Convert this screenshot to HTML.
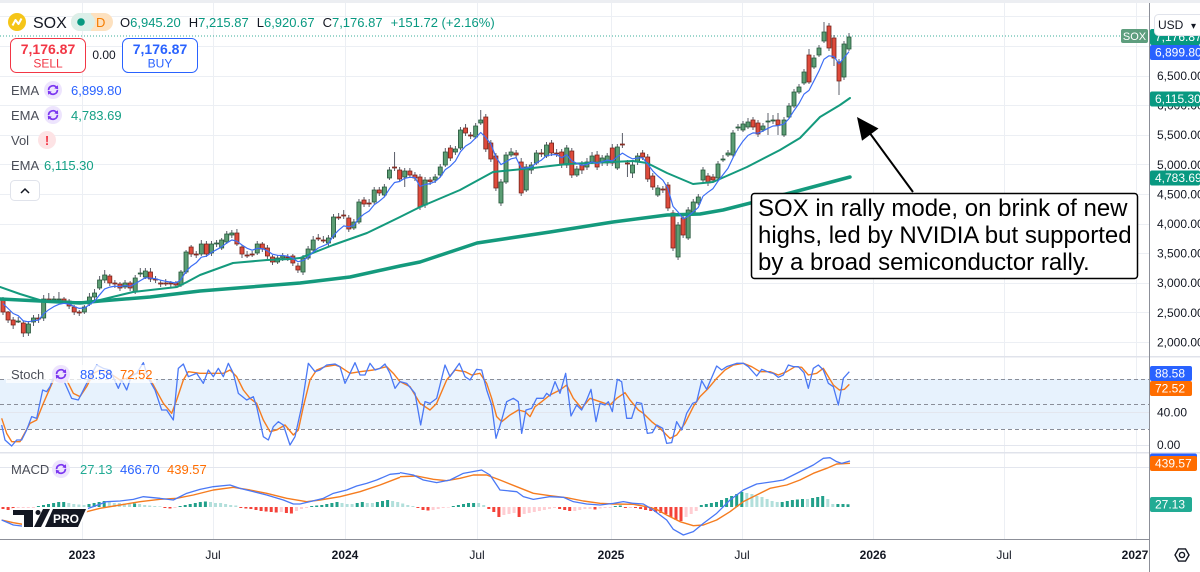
<!DOCTYPE html>
<html><head><meta charset="utf-8"><title>SOX weekly chart</title>
<style>
html,body{margin:0;padding:0;background:#fff}
body{width:1200px;height:572px;overflow:hidden}
svg{display:block;font-family:"Liberation Sans",Arial,sans-serif}
</style></head><body>
<svg width="1200" height="572" viewBox="0 0 1200 572" xmlns="http://www.w3.org/2000/svg">
<defs>
<clipPath id="cm"><rect x="0" y="0" width="1149" height="356"/></clipPath>
<clipPath id="cs"><rect x="0" y="357" width="1149" height="95"/></clipPath>
<clipPath id="cd"><rect x="0" y="453" width="1149" height="86"/></clipPath>
</defs>
<rect width="1200" height="572" fill="#fff"/>
<rect x="0" y="0" width="1200" height="3" fill="#eceef2"/>
<g stroke="#eceff4" stroke-width="1">
<line x1="82.5" y1="3" x2="82.5" y2="539"/><line x1="213.5" y1="3" x2="213.5" y2="539"/>
<line x1="345.5" y1="3" x2="345.5" y2="539"/><line x1="477.5" y1="3" x2="477.5" y2="539"/>
<line x1="611.5" y1="3" x2="611.5" y2="539"/><line x1="742.5" y1="3" x2="742.5" y2="539"/>
<line x1="873.5" y1="3" x2="873.5" y2="539"/><line x1="1004.5" y1="3" x2="1004.5" y2="539"/>
<line x1="1136.5" y1="3" x2="1136.5" y2="539"/>
<line x1="0" y1="16.5" x2="1149" y2="16.5"/><line x1="0" y1="46.5" x2="1149" y2="46.5"/>
<line x1="0" y1="76.5" x2="1149" y2="76.5"/><line x1="0" y1="105.5" x2="1149" y2="105.5"/>
<line x1="0" y1="135.5" x2="1149" y2="135.5"/><line x1="0" y1="164.5" x2="1149" y2="164.5"/>
<line x1="0" y1="194.5" x2="1149" y2="194.5"/><line x1="0" y1="224.5" x2="1149" y2="224.5"/>
<line x1="0" y1="253.5" x2="1149" y2="253.5"/><line x1="0" y1="283.5" x2="1149" y2="283.5"/>
<line x1="0" y1="312.5" x2="1149" y2="312.5"/><line x1="0" y1="342.5" x2="1149" y2="342.5"/>
</g>
<rect x="0" y="379" width="1149" height="50" fill="#e7f2fd"/>
<g stroke="#e3e6ee" stroke-width="1">
<line x1="0" y1="412.5" x2="1149" y2="412.5"/><line x1="0" y1="445.5" x2="1149" y2="445.5"/>
<line x1="0" y1="467.5" x2="1149" y2="467.5"/>
</g>
<g stroke="#8a8e99" stroke-width="1" stroke-dasharray="4,3">
<line x1="0" y1="379.5" x2="1149" y2="379.5"/>
<line x1="0" y1="404.5" x2="1149" y2="404.5"/>
<line x1="0" y1="429.5" x2="1149" y2="429.5"/>
</g>
<line x1="0" y1="36" x2="1121" y2="36" stroke="#089981" stroke-width="1" stroke-dasharray="1,2" opacity="0.8"/>

<!-- MAIN PANEL -->
<g clip-path="url(#cm)">
<!-- Z6 -->
<g transform="matrix(1.017,0,0,1,-0.051,0)">
<path fill="none" stroke="#5d606b" stroke-width="1" d="M3 297V315 M8 311V323 M13 317V329 M18 317V323 M23 321V337 M28 321V336 M33 315V326 M38 314V323 M43 295V321 M48 293V303 M53 296V303 M58 292V302 M63 297V304 M68 299V309 M73 305V315 M78 310V316 M83 305V314 M88 293V306 M93 289V301 M98 276V290 M103 270V283 M108 274V286 M113 280V288 M118 282V291 M123 280V289 M128 281V291 M133 275V294 M138 268V277 M143 268V279 M148 268V282 M153 276V283 M158 280V287 M163 279V286 M168 281V288 M173 281V288 M178 270V287 M183 250V274 M188 245V257 M193 251V258 M198 240V256 M203 241V257 M208 241V256 M213 240V247 M218 238V250 M223 231V244 M228 230V238 M233 229V246 M238 245V258 M243 251V258 M248 251V257 M253 241V255 M258 242V252 M263 245V259 M268 255V265 M273 255V264 M278 253V261 M283 254V261 M288 254V266 M293 263V273 M298 255V275 M303 246V260 M308 236V252 M313 234V241 M318 236V243 M323 235V246 M328 214V239 M333 213V220 M338 210V219 M343 215V232 M348 219V230 M353 199V224 M358 197V207 M363 199V207 M368 187V204 M373 187V196 M378 184V197 M383 167V180 M388 152V171 M393 167V182 M398 168V187"/>
<path fill="#5b9d73" stroke="#24553a" stroke-width="0.8" d="M16 321h4v1h-4z M26 324h4v9h-4z M31 318h4v4h-4z M41 299h4v19h-4z M51 299h4v1h-4z M56 299h4v1h-4z M81 307h4v5h-4z M86 297h4v7h-4z M91 293h4v4h-4z M96 280h4v8h-4z M101 275h4v5h-4z M121 283h4v4h-4z M131 278h4v14h-4z M136 273h4v1h-4z M141 271h4v6h-4z M176 272h4v13h-4z M181 252h4v20h-4z M196 244h4v10h-4z M206 244h4v9h-4z M211 243h4v1h-4z M216 240h4v8h-4z M221 234h4v8h-4z M226 233h4v2h-4z M251 244h4v9h-4z M271 258h4v4h-4z M276 256h4v2h-4z M296 258h4v14h-4z M301 249h4v9h-4z M306 240h4v10h-4z M321 238h4v5h-4z M326 217h4v20h-4z M346 222h4v6h-4z M351 202h4v20h-4z M366 190h4v12h-4z M376 187h4v8h-4z M381 170h4v8h-4z M396 171h4v6h-4z"/>
<path fill="#df4b3c" stroke="#74241b" stroke-width="0.8" d="M1 300h4v12h-4z M6 312h4v8h-4z M11 320h4v5h-4z M21 323h4v10h-4z M36 318h4v1h-4z M46 299h4v1h-4z M61 299h4v2h-4z M66 301h4v5h-4z M71 307h4v5h-4z M76 312h4v1h-4z M106 276h4v7h-4z M111 283h4v1h-4z M116 284h4v4h-4z M126 283h4v5h-4z M146 272h4v7h-4z M151 279h4v1h-4z M156 283h4v1h-4z M161 283h4v1h-4z M166 283h4v1h-4z M171 283h4v2h-4z M186 247h4v7h-4z M191 254h4v1h-4z M201 244h4v10h-4z M231 233h4v11h-4z M236 247h4v7h-4z M241 255h4v1h-4z M246 254h4v1h-4z M256 244h4v5h-4z M261 248h4v8h-4z M266 257h4v5h-4z M281 257h4v1h-4z M286 256h4v7h-4z M291 266h4v4h-4z M311 238h4v1h-4z M316 240h4v1h-4z M331 217h4v1h-4z M336 215h4v1h-4z M341 218h4v11h-4z M356 200h4v4h-4z M361 203h4v1h-4z M371 190h4v3h-4z M386 167h4v1h-4z M391 170h4v9h-4z"/>
</g>
<!-- Z7 -->
<g transform="matrix(1.012,0,0,1,-5.04,0)">
<path fill="none" stroke="#5d606b" stroke-width="1" d="M410 168V178 M415 172V181 M420 174V210 M425 177V208 M430 177V185 M435 174V183 M440 164V177 M445 148V167 M450 145V161 M455 146V155 M460 127V150 M465 124V136 M470 132V139 M475 123V139 M480 110V125 M485 114V152 M490 140V162 M495 153V191 M500 179V206 M505 152V184 M510 148V157 M515 150V158 M520 158V196 M525 164V192 M530 162V174 M535 150V165 M540 149V157 M545 142V158 M550 140V156 M555 149V157 M560 149V168 M565 145V168 M570 148V178 M575 166V177 M580 161V174 M585 158V170 M590 152V164 M595 151V170 M600 155V166 M605 153V166 M610 144V166 M615 144V170 M620 133V148 M625 160V177 M630 162V178 M635 153V165 M640 150V160 M645 154V182 M650 173V190 M655 185V197 M660 186V193 M665 182V211 M670 210V251 M675 222V260 M680 215V238 M685 207V240 M690 199V214 M695 194V205"/>
<path fill="#5b9d73" stroke="#24553a" stroke-width="0.8" d="M423 180h4v25h-4z M433 177h4v3h-4z M438 167h4v8h-4z M443 152h4v13h-4z M453 149h4v3h-4z M458 130h4v18h-4z M473 126h4v11h-4z M478 120h4v3h-4z M498 182h4v21h-4z M503 155h4v27h-4z M508 152h4v3h-4z M523 167h4v23h-4z M528 165h4v5h-4z M533 153h4v10h-4z M543 145h4v11h-4z M563 148h4v17h-4z M573 169h4v6h-4z M583 162h4v5h-4z M588 156h4v6h-4z M598 158h4v5h-4z M603 156h4v7h-4z M613 147h4v21h-4z M628 165h4v8h-4z M633 156h4v6h-4z M653 188h4v7h-4z M673 225h4v32h-4z M683 210h4v28h-4z M688 202h4v10h-4z M693 197h4v6h-4z"/>
<path fill="#df4b3c" stroke="#74241b" stroke-width="0.8" d="M408 171h4v4h-4z M413 175h4v3h-4z M418 177h4v30h-4z M428 180h4v1.5h-4z M448 148h4v10h-4z M463 128h4v5h-4z M468 135h4v1h-4z M483 117h4v32h-4z M488 143h4v16h-4z M493 156h4v32h-4z M513 153h4v2h-4z M518 162h4v31h-4z M538 153h4v1h-4z M548 143h4v10h-4z M553 153h4v1h-4z M558 152h4v13h-4z M568 151h4v24h-4z M578 165h4v5h-4z M593 155h4v12h-4z M608 148h4v15h-4z M618 144h4v1h-4z M623 163h4v1h-4z M638 153h4v4h-4z M643 157h4v22h-4z M648 176h4v11h-4z M658 189h4v1h-4z M663 185h4v23h-4z M668 213h4v35h-4z M678 218h4v17h-4z"/>
</g>
<!-- Z8 -->
<path fill="none" stroke="#5d606b" stroke-width="1" d="M703 167V182 M708 173V186 M713 174V183 M718 161V180 M723 155V162 M728 150V157 M733 130V157 M738 124V131 M743 121V132 M748 118V129 M753 117V130 M758 120V137 M763 123V132 M768 113V135 M773 115V124 M778 113V135 M784 117V137 M789 103V119 M794 89V108 M799 84V94 M804 69V85 M809 49V84 M814 55V69 M819 45V57 M824 22V43 M829 23V51 M834 35V66 M839 59V95 M844 41V80 M849 33V51"/>
<path fill="#5b9d73" stroke="#24553a" stroke-width="0.8" d="M701 170h4v10h-4z M716 164h4v14h-4z M721 159h4v1h-4z M726 153h4v2h-4z M731 133h4v22h-4z M736 127h4v1h-4z M741 124h4v6h-4z M746 122h4v5h-4z M761 126h4v4h-4z M766 121h4v1h-4z M771 120h4v1h-4z M782 120h4v15h-4z M787 106h4v11h-4z M792 92h4v14h-4z M797 87h4v5h-4z M802 72h4v11h-4z M812 58h4v9h-4z M817 48h4v7h-4z M822 32h4v9h-4z M842 44h4v33h-4z M847 37h4v12h-4z"/>
<path fill="#df4b3c" stroke="#74241b" stroke-width="0.8" d="M706 176h4v7h-4z M711 177h4v3h-4z M751 120h4v7h-4z M756 123h4v11h-4z M776 120h4v5h-4z M807 55h4v27h-4z M827 26h4v22h-4z M832 38h4v20h-4z M837 62h4v19h-4z"/>

<!-- green EMAs -->
<polyline fill="none" stroke="#149a7d" stroke-width="3.5" stroke-linejoin="round" stroke-linecap="round" points="0,299 40,301 80,303 100,301 150,297 200,291 250,287 300,283 350,277 400,266 420,262 477,243 550,232 613,222 667,215 700,214 723,210 790,193 850,177"/>
<polyline fill="none" stroke="#149a7d" stroke-width="2" stroke-linejoin="round" stroke-linecap="round" points="0,287 20,294 33,298 43,301 60,302 87,302 100,300 133,292 177,287 187,282 200,275 233,263 267,260 290,259 300,258 333,245 367,233 400,217 420,207 460,190 493,172 533,168 567,164 633,161 647,163 667,173 693,184 713,182 747,167 780,150 800,138 820,117 840,105 850,98"/>
<!-- blue EMA -->
<g fill="none" stroke="#3d6ef5" stroke-width="1.2" stroke-linejoin="round">
<polyline transform="matrix(1.017,0,0,1,-0.051,0)" points="3,303.6 8,308.5 13,313.5 18,315.7 23,320.9 28,321.8 33,320.7 38,320.1 43,313.8 48,309.7 53,306.6 58,304.3 63,303.3 68,304.1 73,306.5 78,308.4 83,308 88,304.7 93,301.2 98,294.8 103,288.9 108,287.1 113,286.1 118,286.7 123,285.6 128,286.3 133,283.8 138,280.6 143,277.7 148,278.1 153,278.7 158,280.2 163,281.3 168,282.1 173,283 178,279.7 183,271.4 188,266.2 193,262.8 198,257.2 203,256.2 208,252.5 213,249.7 218,246.8 223,243 228,240 233,241.2 238,245 243,248.3 248,250.2 253,248.4 258,248.6 263,250.8 268,254.2 273,255.3 278,255.5 283,256.2 288,258.2 293,261.7 298,260.6 303,257.1 308,252 313,248 318,245.8 323,243.5 328,235.5 333,230.2 338,225.9 343,226.8 348,225.4 353,218.4 358,214.1 363,211 368,204.7 373,201.2 378,196.9 383,188.8 388,182.5 393,181.5 398,178.3 403.1,177.3"/>
<polyline transform="matrix(1.012,0,0,1,-5.04,0)" points="410,177.3 415,177.5 420,186.4 425,184.5 430,183.6 435,181.6 440,177.2 445,169.6 450,166.1 455,161 460,151.7 465,146.1 470,143 475,137.9 480,132.5 485,137.5 490,143.9 495,157.1 500,164.6 505,161.7 510,158.8 515,157.7 520,168.3 525,167.9 530,167 535,162.8 540,160.1 545,155.6 550,154.8 555,154.5 560,157.7 565,154.8 570,160.9 575,163.3 580,165.3 585,164.3 590,161.8 595,163.4 600,161.8 605,160.1 610,160.9 615,156.7 620,153.1 625,156.3 630,158.9 635,158 640,157.7 645,164.1 650,170.9 655,176 660,180.2 665,188.5 670,206.4 675,212 680,218.9 685,216.2 690,211.9 695,207.4 699.6,196.2"/>
<polyline points="703,196.2 708,192.2 713,188.6 718,181.2 723,174.8 728,168.3 733,157.7 738,148.5 743,141.1 748,135.4 753,132.9 758,133.2 763,131 768,128.3 773,126 778,125.7 784,124 789,118.6 794,110.6 799,103.5 804,94.1 809,90.4 814,80.7 819,70.9 824,59.2 829,55.8 834,56.5 839,63.8 844,57.9 849,51.6"/>
</g>
</g>

<!-- STOCH -->
<g clip-path="url(#cs)" fill="none" stroke-linejoin="round">
<g transform="matrix(0.333333,0,0,0.333333,0,340)">
<polyline vector-effect="non-scaling-stroke" stroke="#f57c1f" stroke-width="1.4" points="5,235 20,280 35,305 60,305 90,250 110,240 130,190 165,110 180,95 200,120 220,160 240,170 260,140 280,100 300,90 330,100 360,120 380,115 410,100 440,100 460,135 490,190 515,220 530,180 550,120 565,95 600,100 630,100 670,100 690,90 710,110 730,150 750,175 770,190 790,240 810,275 830,270 855,255 880,285 895,270 910,200 930,120 950,90 975,80 1005,75 1020,80 1050,100 1080,95 1120,90 1160,80 1180,100 1200,125"/>
<polyline vector-effect="non-scaling-stroke" stroke="#4a78f5" stroke-width="1.3" points="5,255 15,300 35,318 50,300 65,300 80,270 95,230 110,235 128,150 140,155 150,140 165,100 180,90 195,130 215,175 235,180 255,140 270,110 290,75 310,85 330,90 355,145 365,120 380,150 395,105 410,100 430,68 445,115 465,150 485,210 500,210 520,240 535,85 550,72 565,110 590,100 610,130 625,90 640,110 655,85 670,110 685,70 700,100 715,160 740,180 760,170 770,200 790,290 805,300 820,260 835,245 850,255 870,315 885,290 905,200 925,70 945,95 960,90 980,75 1005,72 1020,80 1035,130 1050,100 1065,68 1080,105 1095,105 1110,70 1125,90 1140,85 1155,72 1170,100 1185,145 1200,125"/>
</g>
<g transform="matrix(0.333333,0,0,0.333333,400,340)">
<polyline vector-effect="non-scaling-stroke" stroke="#f57c1f" stroke-width="1.4" points="0,125 30,140 60,190 90,210 110,190 140,120 165,90 195,95 215,105 240,100 260,130 275,175 290,230 305,245 330,225 355,210 375,215 390,230 405,200 425,185 450,165 480,150 500,135 520,175 545,205 570,175 600,185 630,195 650,175 675,158 690,180 715,210 730,220 755,245 780,265 810,295 830,285 855,250 880,200 900,170 925,145 950,115 975,90 1000,75 1030,70 1055,80 1080,95 1110,95 1135,105 1160,95 1185,80 1205,82 1225,105 1250,100 1270,85 1285,110 1300,135 1318,150 1333,148 1348,133"/>
<polyline vector-effect="non-scaling-stroke" stroke="#4a78f5" stroke-width="1.3" points="0,125 20,130 45,160 62,255 75,185 90,190 110,175 135,75 150,110 178,70 195,110 210,120 230,88 245,90 260,150 275,195 288,295 305,240 320,185 340,175 355,185 365,280 378,210 395,205 410,175 430,175 440,160 450,168 465,125 480,160 497,100 513,228 530,195 545,210 560,180 573,148 588,245 600,190 615,195 625,185 637,215 652,118 665,125 680,235 695,235 710,187 725,190 742,280 757,278 770,255 788,265 800,310 815,308 830,245 845,270 860,220 878,190 890,185 905,122 920,148 950,78 965,90 980,80 1010,70 1030,70 1045,80 1070,108 1085,88 1110,98 1120,100 1135,112 1150,105 1165,75 1180,80 1195,80 1212,98 1225,145 1240,85 1255,75 1270,90 1285,130 1300,140 1315,195 1330,115 1348,95"/>
</g>
</g>

<!-- MACD -->
<g clip-path="url(#cd)">
<path fill="#22a08a" d="M36.9,506h3v1h-3z M42,505h3v2h-3z M47,504h3v3h-3z M52.1,503h3v4h-3z M57.2,502h3v5h-3z M62.2,502h3v5h-3z M87.5,504h3v3h-3z M92.6,503h3v4h-3z M97.6,502h3v5h-3z M102.7,501h3v6h-3z M133.1,503.5h3v3.5h-3z M178.6,506h3v1h-3z M183.7,505h3v2h-3z M188.7,504h3v3h-3z M193.8,503h3v4h-3z M198.8,502h3v5h-3z M203.9,501.5h3v5.5h-3z M310.2,506h3v1h-3z M315.2,505.5h3v1.5h-3z M320.3,505h3v2h-3z M325.3,504h3v3h-3z M330.4,503h3v4h-3z M335.5,502h3v5h-3z M355.7,503h3v4h-3z M360.8,502h3v5h-3z M375.9,502h3v5h-3z M381,501h3v6h-3z M386.1,500h3v7h-3z M451.8,506h3v1h-3z M456.9,505h3v2h-3z M462,504h3v3h-3z M467,503h3v4h-3z M472.1,503h3v4h-3z M613.8,506h3v1h-3z M618.8,505.5h3v1.5h-3z M699.8,505h3v2h-3z M704.8,504h3v3h-3z M709.9,503h3v4h-3z M715,502h3v5h-3z M720,500h3v7h-3z M725.1,498h3v9h-3z M730.1,496h3v11h-3z M735.2,494h3v13h-3z M740.3,492h3v15h-3z M780.7,502h3v5h-3z M785.8,501h3v6h-3z M790.9,500h3v7h-3z M795.9,499.5h3v7.5h-3z M801,499h3v8h-3z M811.1,498h3v9h-3z M816.2,497h3v10h-3z M821.2,496h3v11h-3z M836.4,504h3v3h-3z M841.5,504h3v3h-3z M846.5,504.3h3v2.7h-3z"/>
<path fill="#b2dfdb" d="M67.3,503h3v4h-3z M72.3,504h3v3h-3z M77.4,504.5h3v2.5h-3z M82.5,505h3v2h-3z M107.8,502h3v5h-3z M112.8,503h3v4h-3z M117.9,503h3v4h-3z M122.9,503.5h3v3.5h-3z M128,504h3v3h-3z M138.1,504h3v3h-3z M143.2,505h3v2h-3z M148.2,505.5h3v1.5h-3z M153.3,506h3v1h-3z M158.4,506.4h3v0.6h-3z M209,502h3v5h-3z M214,503h3v4h-3z M219.1,503h3v4h-3z M224.1,504h3v3h-3z M229.2,505h3v2h-3z M234.3,505.5h3v1.5h-3z M340.5,503h3v4h-3z M345.6,504h3v3h-3z M350.6,504h3v3h-3z M365.8,503h3v4h-3z M370.9,503h3v4h-3z M391.1,501h3v6h-3z M396.2,502h3v5h-3z M401.2,503.5h3v3.5h-3z M406.3,505h3v2h-3z M411.4,506h3v1h-3z M477.1,503h3v4h-3z M482.2,505h3v2h-3z M745.3,493h3v14h-3z M750.4,494h3v13h-3z M755.4,496h3v11h-3z M760.5,497h3v10h-3z M765.6,499h3v8h-3z M770.6,501h3v6h-3z M775.7,502h3v5h-3z M806,499h3v8h-3z M826.3,499h3v8h-3z M831.3,504h3v3h-3z"/>
<path fill="#f4423a" d="M1.5,507h3v2h-3z M6.6,507h3v3h-3z M11.6,507h3v4h-3z M163.4,507h3v1h-3z M168.5,507h3v1.5h-3z M239.3,507h3v1h-3z M244.4,507h3v1.5h-3z M249.4,507h3v2h-3z M254.5,507h3v3h-3z M259.6,507h3v4h-3z M264.6,507h3v4.5h-3z M269.7,507h3v5h-3z M274.7,507h3v5.5h-3z M284.9,507h3v6h-3z M289.9,507h3v6.5h-3z M416.4,507h3v1h-3z M421.5,507h3v3h-3z M426.5,507h3v3.5h-3z M487.3,507h3v2h-3z M492.3,507h3v5h-3z M497.4,507h3v10h-3z M517.6,507h3v10h-3z M558.1,507h3v2h-3z M563.2,507h3v3h-3z M568.2,507h3v4h-3z M593.5,507h3v2.5h-3z M623.9,507h3v1h-3z M634,507h3v1h-3z M639.1,507h3v2h-3z M644.1,507h3v3h-3z M649.2,507h3v4h-3z M654.2,507h3v5h-3z M659.3,507h3v6h-3z M664.4,507h3v7h-3z M669.4,507h3v10h-3z M674.5,507h3v13h-3z M679.5,507h3v14h-3z"/>
<path fill="#ffcdd2" d="M16.7,507h3v3h-3z M21.7,507h3v2h-3z M26.8,507h3v1h-3z M31.9,507h3v1h-3z M173.5,507h3v1h-3z M279.8,507h3v5h-3z M295,507h3v4h-3z M300,507h3v2h-3z M305.1,507h3v1h-3z M431.6,507h3v3h-3z M436.7,507h3v2h-3z M441.7,507h3v1h-3z M446.8,507h3v0.6h-3z M502.4,507h3v8h-3z M507.5,507h3v7h-3z M512.6,507h3v6h-3z M522.7,507h3v7h-3z M527.7,507h3v6h-3z M532.8,507h3v5h-3z M537.9,507h3v4h-3z M542.9,507h3v3h-3z M548,507h3v2h-3z M553,507h3v1h-3z M573.3,507h3v4h-3z M578.3,507h3v3h-3z M583.4,507h3v2h-3z M588.5,507h3v2h-3z M598.6,507h3v1.5h-3z M603.6,507h3v1h-3z M608.7,507h3v1h-3z M628.9,507h3v1h-3z M684.6,507h3v10h-3z M689.7,507h3v7h-3z M694.7,507h3v4h-3z"/>
<g fill="none" stroke-linejoin="round">
<g transform="matrix(0.333333,0,0,0.333333,0,340)">
<polyline vector-effect="non-scaling-stroke" stroke="#f57c1f" stroke-width="1.4" points="5,540 40,548 80,555 120,555 160,548 200,535 260,515 300,505 360,495 420,485 480,478 530,475 580,465 640,450 700,442 750,450 800,460 860,475 920,485 960,480 1020,470 1080,455 1140,435 1200,412"/>
<polyline vector-effect="non-scaling-stroke" stroke="#4a78f5" stroke-width="1.3" points="5,540 40,555 80,560 120,545 160,530 220,520 280,500 320,485 360,483 400,478 430,470 480,475 520,480 560,460 600,448 640,440 690,435 720,445 760,455 800,465 850,480 880,492 900,492 930,485 970,475 1000,460 1040,450 1070,438 1100,430 1130,420 1170,403 1200,400"/>
</g>
<g transform="matrix(0.333333,0,0,0.333333,400,340)">
<polyline vector-effect="non-scaling-stroke" stroke="#f57c1f" stroke-width="1.4" points="0,410 50,408 100,418 140,422 180,415 220,405 260,405 300,420 350,440 400,460 450,467 500,473 550,483 600,490 640,492 700,493 740,500 770,508 800,525 840,545 880,557 910,555 950,540 990,515 1030,485 1070,465 1110,445 1160,435 1200,420 1240,400 1280,385 1310,372 1350,370"/>
<polyline vector-effect="non-scaling-stroke" stroke="#4a78f5" stroke-width="1.3" points="0,398 40,405 70,420 110,428 150,420 190,400 245,390 270,405 300,450 350,455 370,470 400,478 450,470 490,472 520,485 560,492 600,495 640,490 670,485 700,490 730,492 760,510 800,540 820,568 850,585 880,575 910,550 950,520 990,480 1030,450 1070,432 1120,425 1150,420 1180,405 1210,390 1240,375 1270,355 1290,353 1310,365 1325,370 1350,363"/>
</g>
</g>
</g>

<!-- separators -->
<rect x="0" y="356" width="1200" height="1.5" fill="#e0e3eb"/>
<rect x="0" y="452" width="1200" height="1.5" fill="#e0e3eb"/>
<rect x="1150" y="3" width="50" height="569" fill="#fff"/>
<rect x="1150" y="356" width="50" height="1.5" fill="#e0e3eb"/>
<rect x="1150" y="452" width="50" height="1.5" fill="#e0e3eb"/>
<line x1="0" y1="539.5" x2="1149" y2="539.5" stroke="#8c8f98" stroke-width="1"/>
<line x1="1149.5" y1="3" x2="1149.5" y2="572" stroke="#8c8f98" stroke-width="1"/>

<!-- time axis -->
<g font-size="12" fill="#131722" text-anchor="middle">
<text x="82" y="559" font-weight="bold">2023</text>
<text x="213" y="559">Jul</text>
<text x="345" y="559" font-weight="bold">2024</text>
<text x="477" y="559">Jul</text>
<text x="611" y="559" font-weight="bold">2025</text>
<text x="742" y="559">Jul</text>
<text x="873" y="559" font-weight="bold">2026</text>
<text x="1004" y="559">Jul</text>
<text x="1135" y="559" font-weight="bold">2027</text>
</g>
<g transform="translate(1182,555)" fill="none" stroke="#131722" stroke-width="1.4">
<polygon points="7,0 3.5,6.1 -3.5,6.1 -7,0 -3.5,-6.1 3.5,-6.1"/>
<circle cx="0" cy="0" r="2.6"/>
</g>

<!-- price axis -->
<g font-size="12" fill="#131722">
<text x="1157" y="50.5">7,000.00</text>
<text x="1157" y="80">6,500.00</text>
<text x="1157" y="109.6">6,000.00</text>
<text x="1157" y="139.2">5,500.00</text>
<text x="1157" y="168.8">5,000.00</text>
<text x="1157" y="198.4">4,500.00</text>
<text x="1157" y="228">4,000.00</text>
<text x="1157" y="257.6">3,500.00</text>
<text x="1157" y="287.2">3,000.00</text>
<text x="1157" y="316.8">2,500.00</text>
<text x="1157" y="346.4">2,000.00</text>
<text x="1157" y="416.5">40.00</text>
<text x="1157" y="449">0.00</text>
</g>
<g font-size="12" fill="#fff">
<rect x="1150" y="29" width="50" height="16" rx="2" fill="#089981"/>
<text x="1155" y="41">7,176.87</text>
<rect x="1154.5" y="14.5" width="50" height="21" rx="4" fill="#fff" stroke="#e0e3eb"/>
<text x="1158" y="29" fill="#131722" font-size="12">USD</text>
<text x="1191" y="29" fill="#131722" font-size="10">▾</text>
<rect x="1150" y="45" width="50" height="15" rx="2" fill="#2962ff"/>
<text x="1155" y="56.5">6,899.80</text>
<rect x="1150" y="91.5" width="50" height="15" rx="2" fill="#089981"/>
<text x="1155" y="103">6,115.30</text>
<rect x="1150" y="170.5" width="50" height="15" rx="2" fill="#089981"/>
<text x="1155" y="182">4,783.69</text>
<rect x="1150" y="366" width="42" height="15" rx="2" fill="#2962ff"/>
<text x="1155" y="377.5">88.58</text>
<rect x="1150" y="381" width="42" height="15" rx="2" fill="#ff6d00"/>
<text x="1155" y="392.5">72.52</text>
<rect x="1150" y="453.5" width="47" height="15" rx="2" fill="#2962ff"/>
<rect x="1150" y="456" width="47" height="15" rx="2" fill="#ff6d00"/>
<text x="1155" y="467.5">439.57</text>
<rect x="1150" y="497" width="42" height="15" rx="2" fill="#22ab94"/>
<text x="1155" y="508.5">27.13</text>
</g>
<rect x="1121" y="29" width="27" height="14" rx="2" fill="#5e9e7e"/>
<text x="1134.5" y="40" font-size="11" fill="#fff" text-anchor="middle">SOX</text>

<!-- annotation -->
<line x1="913" y1="192" x2="869" y2="132" stroke="#000" stroke-width="2"/>
<polygon points="857,117 878.5,128.5 862,140.8" fill="#000"/>
<rect x="751.5" y="193.5" width="386" height="85" rx="3" fill="#fff" stroke="#000" stroke-width="1.5"/>
<g font-size="24" fill="#000">
<text x="758" y="216">SOX in rally mode, on brink of new</text>
<text x="758" y="243">highs, led by NVIDIA but supported</text>
<text x="758" y="270">by a broad semiconductor rally.</text>
</g>

<!-- header -->
<circle cx="17" cy="22" r="9" fill="#f5c518"/>
<polyline points="12.5,25.5 15.5,20 18.5,24 21.5,18.5" fill="none" stroke="#fff" stroke-width="2" stroke-linejoin="round"/>
<text x="33" y="28" font-size="16" fill="#131722">SOX</text>
<rect x="71" y="13" width="42" height="18" rx="9" fill="#fde1bf"/>
<rect x="71" y="13" width="24" height="18" rx="9" fill="#dcefe9"/>
<rect x="86" y="13" width="5" height="18" fill="#dcefe9"/>
<circle cx="81" cy="22" r="3.8" fill="#089981"/>
<text x="96" y="27" font-size="13" fill="#f57c00">D</text>
<text x="120" y="27" font-size="13"><tspan fill="#131722">O</tspan><tspan fill="#089981">6,945.20</tspan><tspan dx="8" fill="#131722">H</tspan><tspan fill="#089981">7,215.87</tspan><tspan dx="8" fill="#131722">L</tspan><tspan fill="#089981">6,920.67</tspan><tspan dx="8" fill="#131722">C</tspan><tspan fill="#089981">7,176.87</tspan><tspan dx="8" fill="#089981">+151.72 (+2.16%)</tspan></text>

<rect x="10.5" y="38.5" width="75" height="34" rx="6" fill="#fff" stroke="#f23645"/>
<text x="48" y="54" font-size="14" font-weight="bold" fill="#f23645" text-anchor="middle">7,176.87</text>
<text x="48" y="67.5" font-size="12" fill="#f23645" text-anchor="middle">SELL</text>
<text x="104" y="59" font-size="12" fill="#131722" text-anchor="middle">0.00</text>
<rect x="122.5" y="38.5" width="75" height="34" rx="6" fill="#fff" stroke="#2962ff"/>
<text x="160" y="54" font-size="14" font-weight="bold" fill="#2962ff" text-anchor="middle">7,176.87</text>
<text x="160" y="67.5" font-size="12" fill="#2962ff" text-anchor="middle">BUY</text>

<g font-size="13" fill="#4a4d57">
<text x="11" y="95">EMA</text>
<text x="11" y="120">EMA</text>
<text x="11" y="145">Vol</text>
<text x="11" y="170">EMA</text>
</g>
<text x="71" y="95" font-size="13" fill="#2962ff">6,899.80</text>
<text x="71" y="120" font-size="13" fill="#14a085">4,783.69</text>
<text x="44" y="170" font-size="13" fill="#14a085">6,115.30</text>
<g>
<circle cx="53" cy="90" r="9" fill="#ede4fd"/><path d="M48.6,90 A4.4,4.4 0 0 1 56.6,87.6 M57.4,90 A4.4,4.4 0 0 1 49.4,92.4" fill="none" stroke="#7b36f0" stroke-width="1.7"/><path d="M57.9,85.2 L58.2,89.4 L54.3,88.3Z M48.1,94.8 L47.8,90.6 L51.7,91.7Z" fill="#7b36f0"/>
</g>
<g transform="translate(0,25)">
<circle cx="53" cy="90" r="9" fill="#ede4fd"/><path d="M48.6,90 A4.4,4.4 0 0 1 56.6,87.6 M57.4,90 A4.4,4.4 0 0 1 49.4,92.4" fill="none" stroke="#7b36f0" stroke-width="1.7"/><path d="M57.9,85.2 L58.2,89.4 L54.3,88.3Z M48.1,94.8 L47.8,90.6 L51.7,91.7Z" fill="#7b36f0"/>
</g>
<circle cx="47" cy="140" r="9" fill="#fde3e5"/>
<text x="47" y="145" font-size="13" font-weight="bold" fill="#f23645" text-anchor="middle">!</text>
<rect x="10.5" y="180.5" width="29" height="20" rx="4" fill="#fff" stroke="#e0e3eb"/>
<polyline points="21,193 25,189 29,193" fill="none" stroke="#131722" stroke-width="1.5"/>

<!-- stoch legend -->
<rect x="6" y="365" width="150" height="18" fill="#fff" opacity="0.75"/>
<text x="11" y="379" font-size="13" fill="#4a4d57">Stoch</text>
<g transform="translate(8,284)">
<circle cx="53" cy="90" r="9" fill="#ede4fd"/><path d="M48.6,90 A4.4,4.4 0 0 1 56.6,87.6 M57.4,90 A4.4,4.4 0 0 1 49.4,92.4" fill="none" stroke="#7b36f0" stroke-width="1.7"/><path d="M57.9,85.2 L58.2,89.4 L54.3,88.3Z M48.1,94.8 L47.8,90.6 L51.7,91.7Z" fill="#7b36f0"/>
</g>
<text x="80" y="379" font-size="13" fill="#2962ff">88.58</text>
<text x="120" y="379" font-size="13" fill="#ff6d00">72.52</text>

<!-- macd legend -->
<text x="11" y="474" font-size="13" fill="#4a4d57">MACD</text>
<g transform="translate(8,379)">
<circle cx="53" cy="90" r="9" fill="#ede4fd"/><path d="M48.6,90 A4.4,4.4 0 0 1 56.6,87.6 M57.4,90 A4.4,4.4 0 0 1 49.4,92.4" fill="none" stroke="#7b36f0" stroke-width="1.7"/><path d="M57.9,85.2 L58.2,89.4 L54.3,88.3Z M48.1,94.8 L47.8,90.6 L51.7,91.7Z" fill="#7b36f0"/>
</g>
<text x="80" y="474" font-size="13" fill="#22ab94">27.13</text>
<text x="120" y="474" font-size="13" fill="#2962ff">466.70</text>
<text x="167" y="474" font-size="13" fill="#ff6d00">439.57</text>

<!-- TV PRO logo -->
<g stroke="#fff" stroke-width="4" stroke-linejoin="round" fill="#fff">
<path d="M13,510 H33 V527 H24 V515 H13 Z"/>
<circle cx="38" cy="512.5" r="2.5"/>
<polygon points="34,527 43,509 50,509 41,527"/>
<polygon points="53,509 86,509 78,527 45,527"/>
</g>
<g fill="#131722">
<path d="M13,510 H33 V527 H24 V515 H13 Z"/>
<circle cx="38" cy="512.5" r="2.5"/>
<polygon points="34,527 43,509 50,509 41,527"/>
<polygon points="53,509 86,509 78,527 45,527"/>
</g>
<text x="66" y="523" font-size="12" font-weight="bold" fill="#fff" text-anchor="middle">PRO</text>
</svg>
</body></html>
